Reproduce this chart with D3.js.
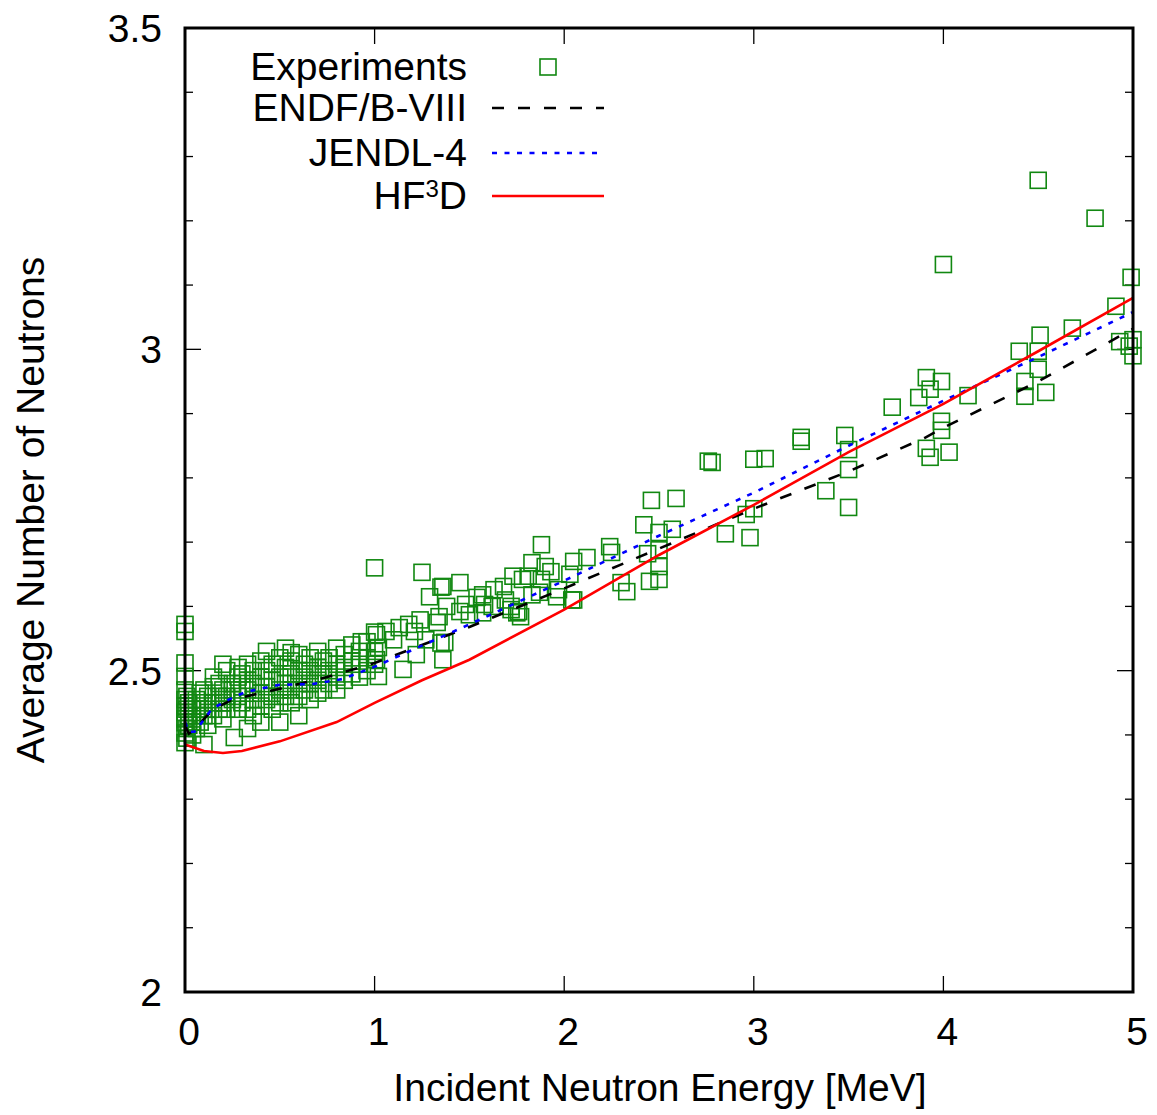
<!DOCTYPE html>
<html>
<head>
<meta charset="utf-8">
<script src="https://cdn.jsdelivr.net/npm/d3@7"></script>
<style>
  body { margin: 0; background: #fff; }
  text { font-family: "Liberation Sans", Arial, sans-serif; fill: #000; }
</style>
</head>
<body>
<svg id="chart" width="1157" height="1115"></svg>
<script>
// tick values
var xTicks = [0, 1, 2, 3, 4, 5];
var yTicks = [2, 2.5, 3, 3.5];
var yMinor = [2.1, 2.2, 2.3, 2.4, 2.6, 2.7, 2.8, 2.9, 3.1, 3.2, 3.3, 3.4];

// evaluations [E (MeV), nu]
var endf = [[0,2.415],[0.02,2.402],[0.05,2.408],[0.1,2.425],[0.15,2.44],[0.25,2.455],[0.5,2.472],[0.75,2.49],
  [1,2.512],[1.5,2.568],[2,2.628],[2.5,2.69],[3,2.752],[3.5,2.81],[3.9,2.862],[4,2.878],[4.5,2.95],[5,3.032]];
var jendl = [[0,2.42],[0.02,2.405],[0.05,2.405],[0.08,2.416],[0.14,2.44],[0.23,2.455],[0.32,2.467],[0.5,2.478],
  [0.67,2.479],[0.83,2.487],[1,2.506],[1.5,2.572],[2,2.64],[2.5,2.71],[3,2.777],[3.5,2.85],[4,2.92],[4.5,2.988],[5,3.058]];
var hf3d = [[0,2.385],[0.1,2.375],[0.2,2.372],[0.3,2.375],[0.5,2.39],[0.8,2.42],[1,2.45],[1.25,2.485],[1.5,2.517],
  [2,2.595],[2.5,2.68],[3,2.758],[3.5,2.84],[4,2.915],[4.5,2.997],[5,3.08]];

// experimental data [E (MeV), nu]
var experiments = [
  [0,2.572],[0,2.561],[0,2.512],[0,2.491],[0,2.455],[0,2.435],[0,2.419],[0,2.403],[0,2.388],[0,2.47],[0,2.445],[0,2.425],
  [0.01,2.44],[0.01,2.41],[0.01,2.395],[0.01,2.46],[0.02,2.43],[0.02,2.415],[0.02,2.45],
  [0.04,2.42],[0.04,2.44],[0.04,2.40],[0.06,2.43],[0.06,2.455],[0.06,2.41],[0.08,2.44],[0.08,2.42],[0.08,2.465],
  [0.1,2.385],[0.1,2.45],[0.1,2.43],[0.1,2.47],[0.12,2.44],[0.12,2.46],[0.12,2.415],
  [0.15,2.45],[0.15,2.475],[0.15,2.43],[0.15,2.49],[0.18,2.46],[0.18,2.44],[0.18,2.48],
  [0.2,2.47],[0.2,2.45],[0.2,2.51],[0.2,2.425],[0.22,2.46],[0.22,2.50],[0.22,2.44],
  [0.26,2.396],[0.25,2.47],[0.25,2.48],[0.25,2.455],[0.28,2.49],[0.28,2.46],[0.28,2.44],[0.28,2.505],
  [0.3,2.475],[0.3,2.45],[0.3,2.495],[0.33,2.41],[0.33,2.47],[0.33,2.485],[0.33,2.51],[0.33,2.44],
  [0.36,2.48],[0.36,2.455],[0.36,2.50],[0.36,2.43],[0.4,2.49],[0.4,2.465],[0.4,2.515],[0.4,2.445],[0.4,2.42],
  [0.43,2.475],[0.43,2.53],[0.43,2.50],[0.43,2.455],[0.46,2.485],[0.46,2.46],[0.46,2.51],[0.46,2.44],
  [0.5,2.49],[0.5,2.47],[0.5,2.52],[0.5,2.45],[0.5,2.42],[0.53,2.48],[0.53,2.505],[0.53,2.535],[0.53,2.46],
  [0.56,2.495],[0.56,2.528],[0.56,2.47],[0.56,2.515],[0.56,2.45],[0.6,2.50],[0.6,2.48],[0.6,2.525],[0.6,2.46],[0.6,2.43],
  [0.63,2.49],[0.63,2.51],[0.63,2.47],[0.66,2.50],[0.66,2.48],[0.66,2.52],[0.66,2.455],
  [0.7,2.505],[0.7,2.485],[0.7,2.53],[0.7,2.465],[0.73,2.495],[0.73,2.515],[0.73,2.47],
  [0.76,2.50],[0.76,2.52],[0.76,2.48],[0.8,2.51],[0.8,2.49],[0.8,2.535],[0.8,2.47],
  [0.84,2.505],[0.84,2.525],[0.84,2.485],[0.88,2.515],[0.88,2.495],[0.88,2.54],[0.92,2.51],[0.92,2.53],[0.92,2.49],
  [0.93,2.545],[0.96,2.52],[0.96,2.50],[0.96,2.545],[1.0,2.66],[1.0,2.56],[1.0,2.53],[1.0,2.51],
  [1.01,2.556],[1.01,2.517],[1.02,2.536],[1.02,2.491],[1.06,2.561],[1.1,2.548],[1.13,2.567],[1.15,2.502],
  [1.18,2.572],[1.21,2.561],[1.22,2.525],[1.24,2.579],[1.25,2.653],[1.27,2.548],[1.29,2.615],[1.33,2.575],
  [1.34,2.584],[1.35,2.63],[1.35,2.543],[1.36,2.631],[1.36,2.517],[1.37,2.544],[1.38,2.6],[1.45,2.637],[1.45,2.592],
  [1.48,2.603],[1.5,2.587],[1.54,2.614],[1.57,2.618],[1.57,2.59],[1.58,2.603],[1.62,2.6],[1.63,2.626],[1.68,2.631],
  [1.69,2.61],[1.72,2.595],[1.72,2.6],[1.73,2.647],[1.75,2.59],[1.76,2.592],[1.77,2.584],[1.78,2.642],[1.81,2.647],
  [1.83,2.668],[1.83,2.618],[1.87,2.622],[1.88,2.696],[1.88,2.642],[1.9,2.662],[1.93,2.654],[1.96,2.615],[1.97,2.626],
  [2.03,2.65],[2.04,2.61],[2.05,2.67],[2.05,2.61],[2.12,2.676],[2.24,2.693],[2.25,2.684],[2.3,2.637],[2.33,2.623],
  [2.42,2.727],[2.44,2.682],[2.45,2.639],[2.46,2.765],[2.5,2.715],[2.5,2.688],[2.5,2.662],[2.5,2.642],[2.57,2.72],
  [2.59,2.768],[2.76,2.826],[2.78,2.824],[2.85,2.713],[2.96,2.743],[2.98,2.707],[3.0,2.829],[3.0,2.752],[3.06,2.83],
  [3.25,2.863],[3.25,2.857],[3.38,2.78],[3.48,2.866],[3.5,2.844],[3.5,2.813],[3.5,2.754],[3.73,2.91],
  [3.87,2.925],[3.91,2.956],[3.91,2.846],[3.93,2.938],[3.93,2.832],[3.99,2.95],[3.99,2.888],[3.99,2.874],[4.0,3.132],
  [4.03,2.84],[4.13,2.928],[4.43,2.95],[4.43,2.927],[4.4,2.997],[4.5,2.997],[4.5,2.969],[4.5,3.263],[4.51,3.022],
  [4.54,2.933],[4.68,3.033],[4.8,3.204],[4.91,3.067],[4.93,3.012],[4.98,3.005],[4.99,3.112],[5.0,3.015],[5.0,2.99]
];

var legendItems = ["Experiments", "ENDF/B-VIII", "JENDL-4", "HF3D"];

var margin = {top: 28, right: 24, bottom: 123, left: 185};
var width = 1157 - margin.left - margin.right,
    height = 1115 - margin.top - margin.bottom;

var svg = d3.select("#chart");
var g = svg.append("g").attr("transform", "translate(" + margin.left + "," + margin.top + ")");

var x = d3.scaleLinear().domain([0, 5]).range([0, width]);
var y = d3.scaleLinear().domain([2, 3.5]).range([height, 0]);

var green = "#118811";
var sq = 16;
var fs = "39px";

// ticks (inward, on all four sides)
var tickG = g.append("g").attr("stroke", "#000").attr("stroke-width", 1.3);
xTicks.slice(1, -1).forEach(function(t) {
  tickG.append("line").attr("x1", x(t)).attr("x2", x(t)).attr("y1", height).attr("y2", height - 16);
  tickG.append("line").attr("x1", x(t)).attr("x2", x(t)).attr("y1", 0).attr("y2", 16);
});
yTicks.concat(yMinor).forEach(function(t) {
  var len = yTicks.indexOf(t) >= 0 ? 16 : 8;
  tickG.append("line").attr("x1", 0).attr("x2", len).attr("y1", y(t)).attr("y2", y(t));
  tickG.append("line").attr("x1", width).attr("x2", width - len).attr("y1", y(t)).attr("y2", y(t));
});

// tick labels
g.selectAll(".xl").data(xTicks).enter().append("text")
  .attr("x", function(d) { return x(d) + 4; })
  .attr("y", height + 53)
  .attr("text-anchor", "middle")
  .style("font-size", fs)
  .text(function(d) { return d; });

g.selectAll(".yl").data(yTicks).enter().append("text")
  .attr("x", -23)
  .attr("y", function(d) { return y(d) + 14; })
  .attr("text-anchor", "end")
  .style("font-size", fs)
  .text(function(d) { return d; });

// axis titles
svg.append("text")
  .attr("x", margin.left + width / 2 + 1)
  .attr("y", 1101)
  .attr("text-anchor", "middle")
  .style("font-size", fs)
  .text("Incident Neutron Energy [MeV]");

svg.append("text")
  .attr("transform", "translate(44," + 510 + ") rotate(-90)")
  .attr("text-anchor", "middle")
  .style("font-size", fs)
  .text("Average Number of Neutrons");

// experiments
g.append("g").selectAll("rect").data(experiments).enter().append("rect")
  .attr("x", function(d) { return x(d[0]) - sq / 2; })
  .attr("y", function(d) { return y(d[1]) - sq / 2; })
  .attr("width", sq).attr("height", sq)
  .attr("fill", "none")
  .attr("stroke", green)
  .attr("stroke-width", 1.6);

var line = d3.line()
  .x(function(d) { return x(d[0]); })
  .y(function(d) { return y(d[1]); });

g.append("path").datum(endf).attr("d", line)
  .attr("fill", "none").attr("stroke", "#000").attr("stroke-width", 2.6).attr("stroke-dasharray", "12,14");
g.append("path").datum(jendl).attr("d", line)
  .attr("fill", "none").attr("stroke", "#0000ff").attr("stroke-width", 2.6).attr("stroke-dasharray", "5,7.5");
g.append("path").datum(hf3d).attr("d", line)
  .attr("fill", "none").attr("stroke", "#ff0000").attr("stroke-width", 2.6);

// frame
g.append("rect").attr("width", width).attr("height", height)
  .attr("fill", "none").attr("stroke", "#000").attr("stroke-width", 3);

// legend
var legY = [67, 108, 153, 196];
var leg = svg.append("g");
legendItems.forEach(function(name, i) {
  var t = leg.append("text")
    .attr("x", 467).attr("y", legY[i] + 13)
    .attr("text-anchor", "end")
    .style("font-size", fs);
  if (name === "HF3D") {
    t.append("tspan").text("HF");
    t.append("tspan").attr("dy", -12).style("font-size", "24px").text("3");
    t.append("tspan").attr("dy", 12).text("D");
  } else {
    t.text(name);
  }
});
leg.append("rect").attr("x", 548 - sq / 2).attr("y", legY[0] - sq / 2).attr("width", sq).attr("height", sq)
  .attr("fill", "none").attr("stroke", green).attr("stroke-width", 1.6);
leg.append("line").attr("x1", 492).attr("x2", 604).attr("y1", legY[1]).attr("y2", legY[1])
  .attr("stroke", "#000").attr("stroke-width", 2.6).attr("stroke-dasharray", "12,14");
leg.append("line").attr("x1", 492).attr("x2", 604).attr("y1", legY[2]).attr("y2", legY[2])
  .attr("stroke", "#0000ff").attr("stroke-width", 2.6).attr("stroke-dasharray", "5,7.5");
leg.append("line").attr("x1", 492).attr("x2", 604).attr("y1", legY[3]).attr("y2", legY[3])
  .attr("stroke", "#ff0000").attr("stroke-width", 2.6);
</script>
</body>
</html>
